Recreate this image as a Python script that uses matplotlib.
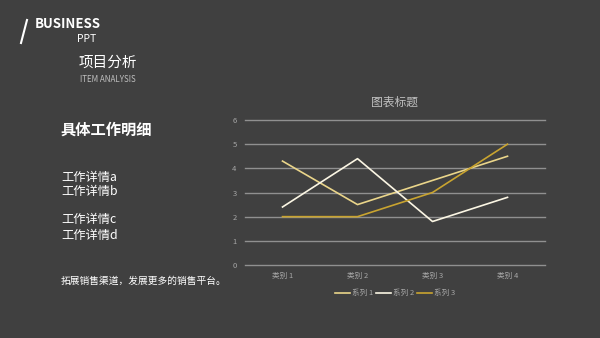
import numpy as np
import matplotlib.pyplot as plt

plt.rcParams['font.family'] = ['Noto Sans CJK SC', 'DejaVu Sans']

categories = ["类别 1", "类别 2", "类别 3", "类别 4"]
series_names = ["系列 1", "系列 2", "系列 3"]
series1 = [4.3, 2.5, 3.5, 4.5]
series2 = [2.4, 4.4, 1.8, 2.8]
series3 = [2.0, 2.0, 3.0, 5.0]
colors = ["#EAD58A", "#FBF6E4", "#C9A430"]

bg = "#404040"
W, H = 600, 338
fig = plt.figure(figsize=(6, 3.38), dpi=100, facecolor=bg)

# left side text (pixel coords converted to figure fraction)
def fx(x):
    return x / W

def fy(y):
    return 1 - y / H

fig.add_artist(plt.Line2D([fx(21), fx(27)], [fy(43), fy(20)], color="white", lw=1.5))
fig.text(fx(35), fy(24), "BUSINESS", color="white", fontsize=9.5, fontweight="bold", va="center")
fig.text(fx(77), fy(39), "PPT", color="white", fontsize=7.5, va="center")
fig.text(fx(79), fy(63), "项目分析", color="white", fontsize=10.5, va="center")
fig.text(fx(80), fy(80), "ITEM ANALYSIS", color="#BFBFBF", fontsize=5.8, va="center")
fig.text(fx(61), fy(130), "具体工作明细", color="white", fontsize=11, fontweight="bold", va="center")
for label, y in zip(["工作详情a", "工作详情b", "工作详情c", "工作详情d"], [177, 192, 219, 235]):
    fig.text(fx(61), fy(y), label, color="white", fontsize=8.8, va="center")
fig.text(fx(61), fy(281), "拓展销售渠道，发展更多的销售平台。", color="white", fontsize=7, va="center")

# chart
ax = fig.add_axes([fx(245), fy(265), fx(545) - fx(245), fy(120) - fy(265)])
ax.set_facecolor(bg)
x = np.arange(len(categories))
for vals, name, c in zip([series1, series2, series3], series_names, colors):
    ax.plot(x, vals, color=c, lw=1.2, label=name, zorder=3)

ax.set_xlim(-0.5, len(categories) - 0.5)
ax.set_ylim(0, 6)
ax.set_yticks(range(0, 7))
ax.set_xticks(x)
ax.set_xticklabels(categories)
ax.grid(axis="y", color="#909090", lw=1)
for gl in ax.get_ygridlines():
    gl.set_clip_on(False)
ax.tick_params(length=0, colors="#A6A6A6", labelsize=5.5)
ax.tick_params(axis="y", pad=6)
ax.tick_params(axis="x", pad=5)
for s in ax.spines.values():
    s.set_visible(False)
ax.set_title("图表标题", color="#BFBFBF", fontsize=8.5, pad=10)
leg = ax.legend(loc="upper center", bbox_to_anchor=(0.5, -0.12), ncol=3, frameon=False,
                fontsize=5.5, labelcolor="#A6A6A6", handlelength=2, handletextpad=0.3,
                columnspacing=0.3)

fig.savefig("out.png", dpi=100, facecolor=bg)
